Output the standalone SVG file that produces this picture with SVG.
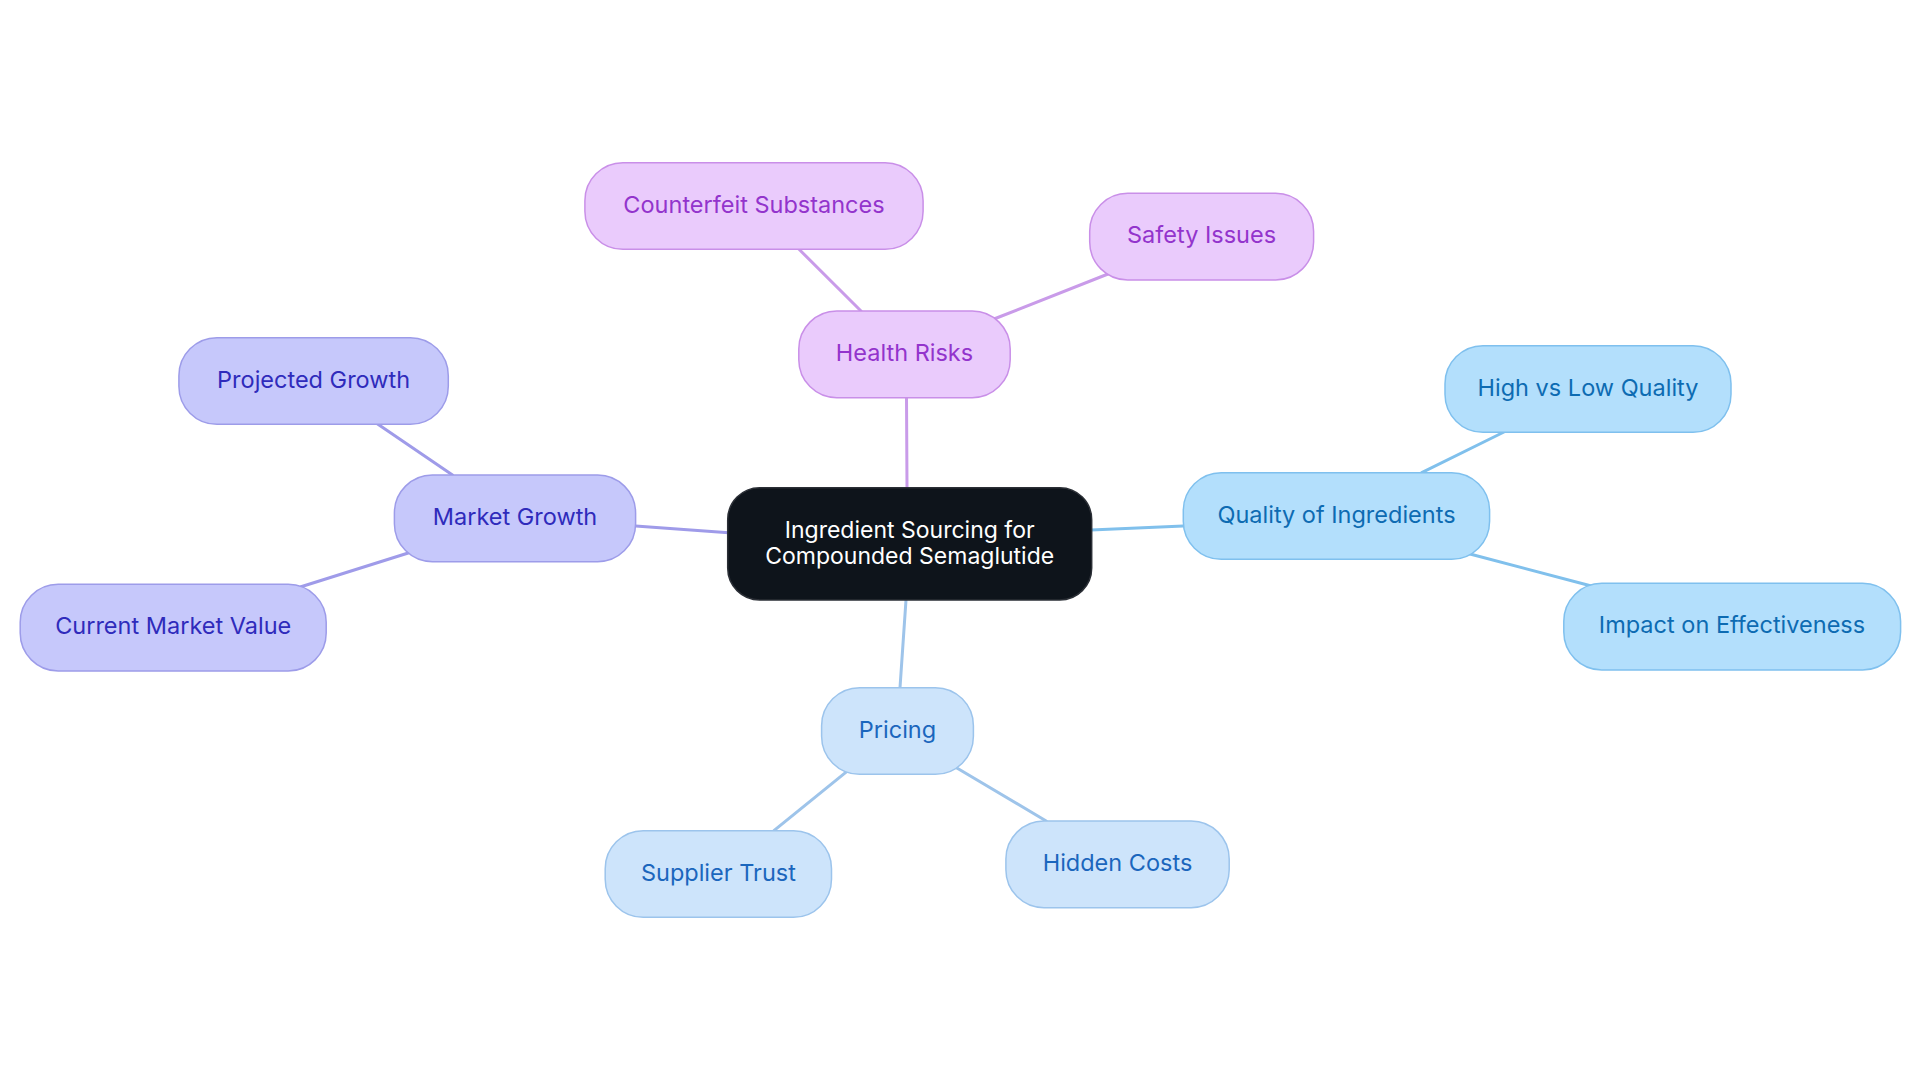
<svg xmlns="http://www.w3.org/2000/svg" width="1920" height="1083" viewBox="0 0 1920 1083">
<style>
text{font-family:Inter,"Open Sans","Liberation Sans",sans-serif;font-size:23.5px;text-anchor:middle;dominant-baseline:central}
.n rect{stroke-width:1.5}
.c line{stroke-width:3;stroke-linecap:round}
.p rect{fill:#eacbfc;stroke:#c98fe8}.p text{fill:#9334cc}
.v rect{fill:#c6c8fb;stroke:#9d9ce9}.v text{fill:#2f2bbb}
.b rect{fill:#b3dffc;stroke:#7fc0ee}.b text{fill:#0d6bb2}
.l rect{fill:#cde4fb;stroke:#9cc4ec}.l text{fill:#1b66bd}
.lp{stroke:#c99be9}.lv{stroke:#9f9be9}.lb{stroke:#80c0ec}.ll{stroke:#9ec4ea}
#center text{font-size:23px}
</style>
<rect width="1920" height="1083" fill="#ffffff"/>
<g id="connectors" class="c">
<line class="lp" x1="907" y1="488" x2="906.5" y2="397"/>
<line class="lp" x1="861" y1="311" x2="798.8" y2="249"/>
<line class="lp" x1="994" y1="319" x2="1108" y2="274"/>
<line class="lv" x1="728.6" y1="532.7" x2="635.6" y2="526"/>
<line class="lv" x1="452.5" y1="475" x2="377.6" y2="424"/>
<line class="lv" x1="409" y1="552.7" x2="301" y2="586.7"/>
<line class="lb" x1="1091" y1="530" x2="1183.3" y2="526"/>
<line class="lb" x1="1421.7" y1="472.7" x2="1504" y2="432"/>
<line class="lb" x1="1470" y1="554" x2="1591.4" y2="586"/>
<line class="ll" x1="906" y1="600" x2="900" y2="687.7"/>
<line class="ll" x1="846.7" y1="771.7" x2="773.9" y2="830.7"/>
<line class="ll" x1="957.3" y1="768.3" x2="1046.2" y2="821"/>
</g>
<g id="center" class="n">
<rect x="727.7" y="487.7" width="364" height="112.3" rx="32" fill="#0e141b" stroke="#2b2f36"/>
<text x="909.7" y="530" fill="#ffffff">Ingredient Sourcing for</text>
<text x="909.7" y="555.5" fill="#ffffff">Compounded Semaglutide</text>
</g>
<g id="health-risks" class="n p">
<rect x="798.8" y="311" width="211.4" height="86.7" rx="38"/>
<text x="904.5" y="352">Health Risks</text>
</g>
<g id="counterfeit-substances" class="n p">
<rect x="584.9" y="162.7" width="338.2" height="86.6" rx="38"/>
<text x="754" y="204">Counterfeit Substances</text>
</g>
<g id="safety-issues" class="n p">
<rect x="1089.7" y="193.3" width="223.9" height="86.7" rx="38"/>
<text x="1201.6" y="234.5">Safety Issues</text>
</g>
<g id="market-growth" class="n v">
<rect x="394.4" y="475" width="241.2" height="86.7" rx="38"/>
<text x="515" y="516">Market Growth</text>
</g>
<g id="projected-growth" class="n v">
<rect x="178.9" y="337.7" width="269.4" height="86.6" rx="38"/>
<text x="313.6" y="379">Projected Growth</text>
</g>
<g id="current-market-value" class="n v">
<rect x="20.2" y="584.3" width="306" height="86.7" rx="38"/>
<text x="173.2" y="625.5">Current Market Value</text>
</g>
<g id="quality-of-ingredients" class="n b">
<rect x="1183.3" y="472.7" width="306.3" height="86.6" rx="38"/>
<text x="1336.5" y="514">Quality of Ingredients</text>
</g>
<g id="high-vs-low-quality" class="n b">
<rect x="1445" y="345.7" width="286" height="86.6" rx="38"/>
<text x="1588" y="387">High vs Low Quality</text>
</g>
<g id="impact-on-effectiveness" class="n b">
<rect x="1563.8" y="583.3" width="336.8" height="86.7" rx="38"/>
<text x="1732" y="624.5">Impact on Effectiveness</text>
</g>
<g id="pricing" class="n l">
<rect x="821.6" y="687.7" width="151.8" height="86.6" rx="38"/>
<text x="897.5" y="729">Pricing</text>
</g>
<g id="supplier-trust" class="n l">
<rect x="605.2" y="830.7" width="226.3" height="86.6" rx="38"/>
<text x="718.4" y="872">Supplier Trust</text>
</g>
<g id="hidden-costs" class="n l">
<rect x="1005.9" y="821" width="223.3" height="86.7" rx="38"/>
<text x="1117.5" y="862">Hidden Costs</text>
</g>
</svg>
